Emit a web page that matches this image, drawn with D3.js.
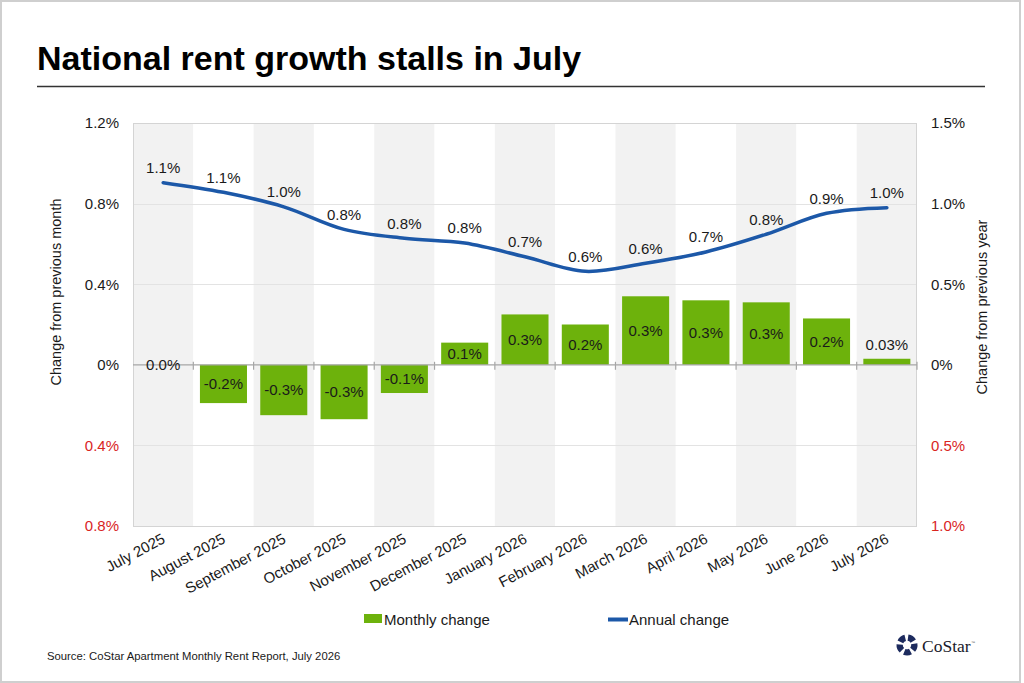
<!DOCTYPE html>
<html>
<head>
<meta charset="utf-8">
<script src="https://cdn.jsdelivr.net/npm/d3@7"></script>
<style>
  html, body { margin: 0; padding: 0; background: #fff; }
  svg { display: block; font-family: "Liberation Sans", Arial, Helvetica, sans-serif; }
</style>
</head>
<body>
<svg id="chart" width="1024" height="683"></svg>
<script>
// ---------------- DATA ----------------
const months = ["July 2025", "August 2025", "September 2025", "October 2025", "November 2025",
  "December 2025", "January 2026", "February 2026", "March 2026", "April 2026", "May 2026",
  "June 2026", "July 2026"];
const monthlyChange = [0.0, -0.19, -0.25, -0.27, -0.14, 0.11, 0.25, 0.20, 0.34, 0.32, 0.31, 0.23, 0.03];
const monthlyLabels = ["0.0%", "-0.2%", "-0.3%", "-0.3%", "-0.1%", "0.1%", "0.3%", "0.2%", "0.3%", "0.3%", "0.3%", "0.2%", "0.03%"];
const annualChange = [1.13, 1.07, 0.98, 0.84, 0.785, 0.755, 0.67, 0.58, 0.63, 0.70, 0.81, 0.94, 0.975];
const annualLabels = ["1.1%", "1.1%", "1.0%", "0.8%", "0.8%", "0.8%", "0.7%", "0.6%", "0.6%", "0.7%", "0.8%", "0.9%", "1.0%"];
const leftTicks = [1.2, 0.8, 0.4, 0, -0.4, -0.8];
const leftTickLabels = ["1.2%", "0.8%", "0.4%", "0%", "0.4%", "0.8%"];
const rightTicks = [1.5, 1.0, 0.5, 0, -0.5, -1.0];
const rightTickLabels = ["1.5%", "1.0%", "0.5%", "0%", "0.5%", "1.0%"];
const seriesNames = ["Monthly change", "Annual change"];

// ---------------- LAYOUT ----------------
const svg = d3.select("#chart");
const plot = { left: 133, right: 917, top: 123, bottom: 526 };
const GREEN = "#6db20c", BLUE = "#1c58a8", RED = "#d9251f", NAVY = "#1d2b5e";

// outer frame
svg.append("rect").attr("x", 1).attr("y", 1).attr("width", 1019).attr("height", 681)
  .attr("fill", "#fff").attr("stroke", "#cfcfcf").attr("stroke-width", 2);

// title
svg.append("text").attr("x", 37).attr("y", 70)
  .attr("font-size", 34).attr("font-weight", "bold").attr("fill", "#000")
  .text("National rent growth stalls in July");
svg.append("line").attr("x1", 37).attr("x2", 985).attr("y1", 86.5).attr("y2", 86.5)
  .attr("stroke", "#333").attr("stroke-width", 1.5);

// scales
const xBand = d3.scaleBand().domain(months).range([plot.left, plot.right]).padding(0);
const xBar = d3.scaleBand().domain(months).range([plot.left, plot.right]).paddingInner(0.22).paddingOuter(0.11);
const yL = d3.scaleLinear().domain([-0.8, 1.2]).range([plot.bottom, plot.top]);
const yR = d3.scaleLinear().domain([-1.0, 1.5]).range([plot.bottom, plot.top]);

// alternating bands
svg.append("g").selectAll("rect").data(months).join("rect")
  .attr("x", d => xBand(d)).attr("y", plot.top)
  .attr("width", xBand.bandwidth()).attr("height", plot.bottom - plot.top)
  .attr("fill", (d, i) => i % 2 === 0 ? "#f2f2f2" : "#ffffff");

// gridlines
svg.append("g").selectAll("line").data(leftTicks.filter(v => v !== 0)).join("line")
  .attr("x1", plot.left).attr("x2", plot.right)
  .attr("y1", d => Math.round(yL(d)) + 0.5).attr("y2", d => Math.round(yL(d)) + 0.5)
  .attr("stroke", "#e3e3e3").attr("stroke-width", 1);

// plot border
svg.append("rect").attr("x", plot.left + 0.5).attr("y", plot.top + 0.5)
  .attr("width", plot.right - plot.left - 1).attr("height", plot.bottom - plot.top)
  .attr("fill", "none").attr("stroke", "#d4d4d4").attr("stroke-width", 1);

// bars
svg.append("g").selectAll("rect").data(months).join("rect")
  .attr("x", d => xBar(d)).attr("width", xBar.bandwidth())
  .attr("y", (d, i) => yL(Math.max(0, monthlyChange[i])))
  .attr("height", (d, i) => Math.abs(yL(monthlyChange[i]) - yL(0)))
  .attr("fill", GREEN);

// zero axis line and ticks
const y0 = yL(0);
svg.append("line").attr("x1", plot.left).attr("x2", plot.right).attr("y1", y0).attr("y2", y0)
  .attr("stroke", "#a6a6a6").attr("stroke-width", 1.2);
svg.append("g").selectAll("line").data(months.slice(1).concat(["__end"])).join("line")
  .attr("x1", (d, i) => i < months.length - 1 ? xBand(d) : plot.right)
  .attr("x2", (d, i) => i < months.length - 1 ? xBand(d) : plot.right)
  .attr("y1", y0 - 3).attr("y2", y0 + 5)
  .attr("stroke", "#a6a6a6").attr("stroke-width", 1.2);

// bar labels
svg.append("g").selectAll("text").data(months).join("text")
  .attr("x", d => xBand(d) + xBand.bandwidth() / 2)
  .attr("y", (d, i) => {
    const v = monthlyChange[i];
    const top = yL(Math.max(0, v)), bot = yL(Math.min(0, v));
    if (v === 0) return y0;
    if (bot - top < 15) return top - 14;
    return (top + bot) / 2;
  })
  .attr("dy", "0.36em")
  .attr("text-anchor", "middle").attr("font-size", 15).attr("fill", "#1a1a1a")
  .text((d, i) => monthlyLabels[i]);

// annual line
const line = d3.line()
  .x((d, i) => xBand(months[i]) + xBand.bandwidth() / 2)
  .y(d => yR(d))
  .curve(d3.curveCatmullRom.alpha(0.5));
svg.append("path").datum(annualChange).attr("d", line)
  .attr("fill", "none").attr("stroke", BLUE).attr("stroke-width", 3.5)
  .attr("stroke-linecap", "round").attr("stroke-linejoin", "round");

svg.append("g").selectAll("text").data(annualChange).join("text")
  .attr("x", (d, i) => xBand(months[i]) + xBand.bandwidth() / 2)
  .attr("y", d => yR(d) - 15)
  .attr("dy", "0.36em")
  .attr("text-anchor", "middle").attr("font-size", 15).attr("fill", "#1a1a1a")
  .text((d, i) => annualLabels[i]);

// left axis
const axL = d3.axisLeft(yL).tickValues(leftTicks).tickSize(0).tickPadding(14)
  .tickFormat((d, i) => leftTickLabels[i]);
const gL = svg.append("g").attr("transform", `translate(${plot.left},0)`).call(axL);
gL.select(".domain").remove();
gL.selectAll("text").attr("font-size", 15).attr("font-family", null)
  .attr("fill", d => d < 0 ? RED : "#1a1a1a");

// right axis
const axR = d3.axisRight(yR).tickValues(rightTicks).tickSize(0).tickPadding(14)
  .tickFormat((d, i) => rightTickLabels[i]);
const gR = svg.append("g").attr("transform", `translate(${plot.right},0)`).call(axR);
gR.select(".domain").remove();
gR.selectAll("text").attr("font-size", 15).attr("font-family", null)
  .attr("fill", d => d < 0 ? RED : "#1a1a1a");

// x axis labels
const axX = d3.axisBottom(xBand).tickSize(0);
const gX = svg.append("g").attr("transform", "translate(0,542)").call(axX);
gX.select(".domain").remove();
gX.selectAll("text").attr("font-size", 15).attr("font-family", null).attr("fill", "#1a1a1a")
  .attr("text-anchor", "end").attr("x", 0).attr("y", 0).attr("dy", "0")
  .attr("transform", "translate(3,0) rotate(-28)");

// axis titles
svg.append("text").attr("transform", "translate(61,292) rotate(-90)")
  .attr("text-anchor", "middle").attr("font-size", 14.5).attr("fill", "#1a1a1a")
  .text("Change from previous month");
svg.append("text").attr("transform", "translate(987,307) rotate(-90)")
  .attr("text-anchor", "middle").attr("font-size", 14.5).attr("fill", "#1a1a1a")
  .text("Change from previous year");

// legend
const lg = svg.append("g");
lg.append("rect").attr("x", 364).attr("y", 614).attr("width", 18).attr("height", 9).attr("fill", GREEN);
lg.append("text").attr("x", 384).attr("y", 624.5).attr("font-size", 15).attr("fill", "#1a1a1a").text(seriesNames[0]);
lg.append("line").attr("x1", 608).attr("x2", 628).attr("y1", 619.5).attr("y2", 619.5)
  .attr("stroke", BLUE).attr("stroke-width", 4);
lg.append("text").attr("x", 629).attr("y", 624.5).attr("font-size", 15).attr("fill", "#1a1a1a").text(seriesNames[1]);

// source
svg.append("text").attr("x", 47).attr("y", 660).attr("font-size", 11.3).attr("fill", "#1a1a1a")
  .text("Source: CoStar Apartment Monthly Rent Report, July 2026");

// logo
const logo = svg.append("g").attr("transform", "translate(907,645)");
const arc = d3.arc().innerRadius(4.2).outerRadius(10.5);
const segs = d3.range(5).map(k => ({ startAngle: (k * 72 + 8) * Math.PI / 180, endAngle: (k * 72 + 58) * Math.PI / 180 }));
logo.selectAll("path").data(segs).join("path").attr("d", arc).attr("fill", NAVY);
svg.append("text").attr("x", 922).attr("y", 651.5)
  .attr("font-family", "'Liberation Serif', 'Times New Roman', serif").attr("font-size", 17.5)
  .attr("fill", "#1a1a2a").text("CoStar");
svg.append("text").attr("x", 971).attr("y", 644)
  .attr("font-size", 4).attr("fill", "#555").text("™");
</script>
</body>
</html>
